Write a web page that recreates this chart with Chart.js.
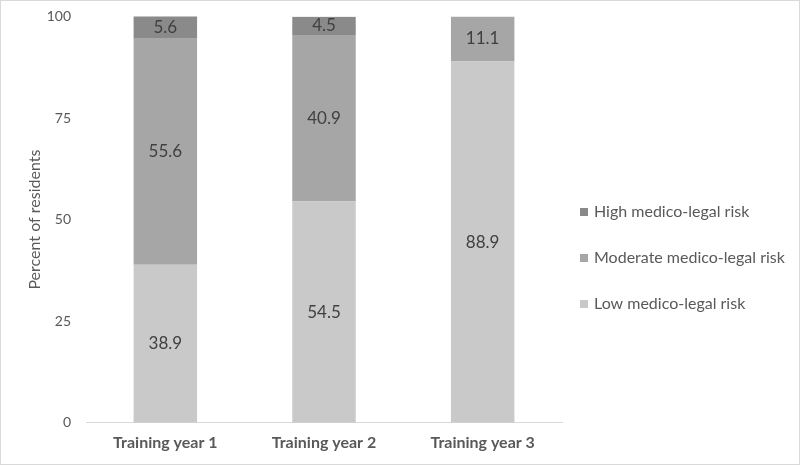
<!DOCTYPE html>
<html lang="en">
<head>
  <meta charset="UTF-8" />
  <title>Medico-legal risk by training year</title>
  <script src="https://cdn.jsdelivr.net/npm/chart.js"></script>
  <style>
    html, body { margin: 0; padding: 0; background: #fff; }
    .wrap { width: 798px; height: 463px; border: 1px solid #d9d9d9; }
  </style>
</head>
<body>
  <div class="wrap">
    <canvas id="riskChart" width="798" height="463"></canvas>
  </div>

  <script>
    const categories = ['Training year 1', 'Training year 2', 'Training year 3'];
    const lowRisk = [38.9, 54.5, 88.9];
    const moderateRisk = [55.6, 40.9, 11.1];
    const highRisk = [5.6, 4.5, 0];
    const yTicks = [0, 25, 50, 75, 100];

    const font = "Lato, 'Open Sans', sans-serif";

    // write the value in the middle of each segment
    const valueLabels = {
      id: 'valueLabels',
      afterDatasetsDraw(chart) {
        const { ctx } = chart;
        ctx.save();
        ctx.font = '17px ' + font;
        ctx.fillStyle = '#404040';
        ctx.textAlign = 'center';
        ctx.textBaseline = 'middle';
        chart.data.datasets.forEach((ds, i) => {
          chart.getDatasetMeta(i).data.forEach((bar, j) => {
            const v = ds.data[j];
            if (!v) return;
            const mid = (bar.y + bar.base) / 2;
            ctx.fillText(v.toFixed(1), bar.x, mid);
          });
        });
        ctx.restore();
      }
    };

    // legend at the right, top series first (the built-in one can't space it like Excel)
    const sideLegend = {
      id: 'sideLegend',
      afterDraw(chart) {
        const { ctx } = chart;
        const x = chart.chartArea.right + 18;
        let y = 211;
        ctx.save();
        ctx.font = '16px ' + font;
        ctx.textBaseline = 'middle';
        chart.data.datasets.slice().reverse().forEach(ds => {
          ctx.fillStyle = ds.backgroundColor;
          ctx.fillRect(x, y - 4, 8, 8);
          ctx.fillStyle = '#595959';
          ctx.fillText(ds.label, x + 14, y);
          y += 46;
        });
        ctx.restore();
      }
    };

    function drawChart() {
      const ctx = document.getElementById('riskChart').getContext('2d');
      new Chart(ctx, {
        type: 'bar',
        data: {
          labels: categories,
          datasets: [
            { label: 'Low medico-legal risk', data: lowRisk, backgroundColor: '#c9c9c9' },
            { label: 'Moderate medico-legal risk', data: moderateRisk, backgroundColor: '#a6a6a6' },
            { label: 'High medico-legal risk', data: highRisk, backgroundColor: '#8a8a8a' }
          ]
        },
        options: {
          responsive: false,
          animation: false,
          layout: { padding: { top: 6, right: 237, left: 22, bottom: 2 } },
          datasets: { bar: { categoryPercentage: 1, barPercentage: 0.4 } },
          scales: {
            x: {
              stacked: true,
              grid: { display: false, drawTicks: false },
              border: { color: '#d9d9d9', width: 1 },
              ticks: { color: '#595959', font: { family: font, size: 16, weight: 'bold' }, padding: 10 }
            },
            y: {
              stacked: true,
              min: 0,
              max: 100,
              afterBuildTicks(scale) { scale.ticks = yTicks.map(v => ({ value: v })); },
              afterFit(scale) { scale.width = 63; },
              grid: { display: false },
              border: { display: false },
              ticks: { color: '#595959', font: { family: font, size: 14 }, padding: 7 },
              title: { display: true, text: 'Percent of residents', color: '#595959', font: { family: font, size: 16 }, padding: 2 }
            }
          },
          plugins: {
            legend: { display: false },
            tooltip: { enabled: false }
          }
        },
        plugins: [valueLabels, sideLegend]
      });
    }

    Promise.all([
      document.fonts.load('16px Lato'),
      document.fonts.load('bold 16px Lato')
    ]).then(drawChart, drawChart);
  </script>
</body>
</html>
